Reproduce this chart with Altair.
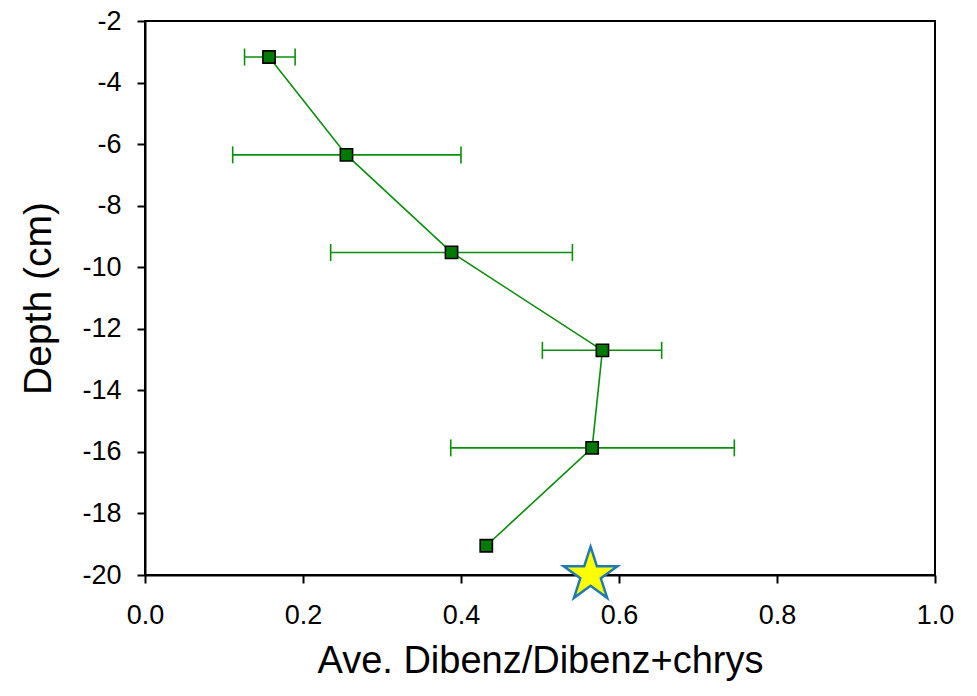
import altair as alt
import pandas as pd

# Data
depth = [-3.17, -6.35, -9.52, -12.70, -15.87, -19.05]
ratio = [0.157, 0.255, 0.388, 0.579, 0.566, 0.432]
err_lo = [0.126, 0.111, 0.235, 0.503, 0.387, None]
err_hi = [0.190, 0.400, 0.541, 0.654, 0.746, None]
star_x = [0.564]
star_y = [-20.0]
x_ticks = [0.0, 0.2, 0.4, 0.6, 0.8, 1.0]
y_ticks = [-20, -18, -16, -14, -12, -10, -8, -6, -4, -2]

df = pd.DataFrame({"depth": depth, "ratio": ratio, "lo": err_lo, "hi": err_hi,
                   "order": list(range(len(depth)))})
err_df = df.dropna()
caps_df = pd.DataFrame({
    "depth": list(err_df["depth"]) * 2,
    "ratio": list(err_df["lo"]) + list(err_df["hi"]),
})
star_df = pd.DataFrame({"ratio": star_x, "depth": star_y})

GREEN = "#0a8f0a"
FONT = "Liberation Sans"

x_scale = alt.Scale(domain=[0, 1], nice=False, zero=False)
y_scale = alt.Scale(domain=[-20, -2], nice=False, zero=False)

x_axis = alt.Axis(title="Ave. Dibenz/Dibenz+chrys", values=x_ticks, format=".1f",
                  grid=False, tickSize=8, tickWidth=2, tickColor="black",
                  domainColor="black", domainWidth=2, labelPadding=19,
                  labelFlush=False, labelOverlap=False,
                  labelFontSize=27, labelColor="black", labelFont=FONT,
                  titleFontSize=38, titleFontWeight="normal", titleColor="black",
                  titleFont=FONT, titleY=97, titleBaseline="alphabetic")
y_axis = alt.Axis(title="Depth (cm)", values=y_ticks, labelExpr="'' + datum.value",
                  grid=False, tickSize=8, tickWidth=2, tickColor="black",
                  domainColor="black", domainWidth=2, labelPadding=16,
                  labelFlush=False, labelOverlap=False,
                  labelFontSize=27, labelColor="black", labelFont=FONT,
                  titleFontSize=39, titleFontWeight="normal", titleColor="black",
                  titleFont=FONT, titleX=-95, titleAngle=270, titleBaseline="alphabetic")

X = alt.X("ratio:Q", scale=x_scale, axis=x_axis)
Y = alt.Y("depth:Q", scale=y_scale, axis=y_axis)

bars = alt.Chart(err_df).mark_rule(color=GREEN, strokeWidth=1.6).encode(
    x=alt.X("lo:Q", scale=x_scale, axis=x_axis), x2="hi:Q", y=Y)

caps = alt.Chart(caps_df).mark_point(
    shape="M0,-1L0,1", size=289, stroke=GREEN, strokeWidth=1.6, filled=False,
    opacity=1).encode(x=X, y=Y)

line = alt.Chart(df).mark_line(color=GREEN, strokeWidth=1.6).encode(
    x=X, y=Y, order="order:Q")

pts = alt.Chart(df).mark_point(
    shape="square", size=150, filled=True, fill="#007a00", stroke="black",
    strokeWidth=1.6, opacity=1).encode(x=X, y=Y)

star_path = ("M0,-1L0.2245,-0.309L0.951,-0.309L0.363,0.118L0.588,0.809L0,0.382"
             "L-0.588,0.809L-0.363,0.118L-0.951,-0.309L-0.2245,-0.309Z")
star = alt.Chart(star_df).mark_point(
    shape=star_path, size=3200, filled=True, fill="#ffff00", stroke="#1f7ab4",
    strokeWidth=2.5, opacity=1).encode(x=X, y=Y)

chart = alt.layer(bars, caps, line, pts, star).properties(
    width=790, height=554,
    autosize=alt.AutoSizeParams(type="none"),
    padding={"left": 137, "top": 13, "right": 30, "bottom": 113},
    background="white",
).configure_view(stroke="black", strokeWidth=2)

chart.save("out.html", embed_options={"renderer": "svg", "actions": False})
